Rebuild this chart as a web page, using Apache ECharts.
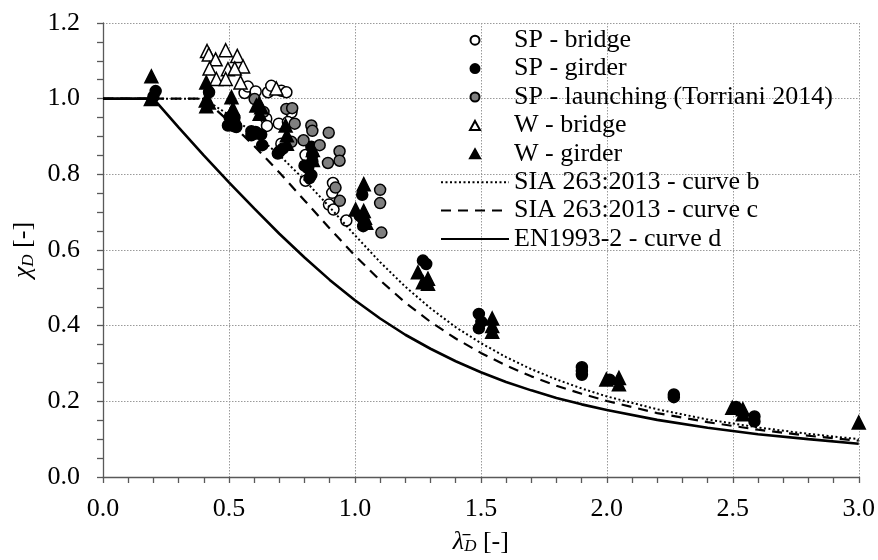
<!DOCTYPE html>
<html>
<head>
<meta charset="utf-8">
<script src="https://cdn.jsdelivr.net/npm/echarts@6/dist/echarts.min.js"></script>
<style>
  html, body { margin: 0; padding: 0; background: #fff; }
  #chart { width: 878px; height: 560px; }
</style>
</head>
<body>
<div id="chart"></div>
<script>
// Test results: [slenderness, reduction factor]
const spBridge = [[0.562,1.015],[0.575,1.032],[0.606,1.019],[0.655,1.017],[0.668,1.034],[0.708,1.021],[0.728,1.017],[0.748,0.964],[0.648,0.947],[0.651,0.928],[0.698,0.934],[0.734,0.938],[0.708,0.881],[0.804,0.851],[0.804,0.783],[0.913,0.777],[0.91,0.751],[0.897,0.72],[0.915,0.707],[0.966,0.678]];
const spGirder = [[0.209,1.02],[0.2,1.005],[0.421,1.017],[0.503,0.951],[0.522,0.95],[0.496,0.929],[0.516,0.928],[0.529,0.925],[0.589,0.914],[0.606,0.912],[0.628,0.905],[0.589,0.903],[0.632,0.877],[0.609,0.908],[0.701,0.861],[0.714,0.868],[0.694,0.855],[0.8,0.823],[0.814,0.816],[0.827,0.798],[0.82,0.79],[0.831,0.834],[0.831,0.851],[0.827,0.873],[1.029,0.746],[1.019,0.69],[1.033,0.681],[1.033,0.663],[1.27,0.572],[1.283,0.563],[1.492,0.431],[1.492,0.393],[1.502,0.41],[1.901,0.29],[1.901,0.28],[1.901,0.27],[2.011,0.257],[2.266,0.218],[2.266,0.211],[2.513,0.185],[2.586,0.16],[2.586,0.147]];
const spLaunching = [[0.602,0.999],[0.637,0.965],[0.728,0.973],[0.751,0.975],[0.761,0.934],[0.748,0.886],[0.796,0.89],[0.827,0.929],[0.831,0.915],[0.86,0.877],[0.896,0.91],[0.939,0.861],[0.939,0.836],[0.893,0.83],[0.923,0.765],[0.94,0.73],[1.1,0.759],[1.1,0.724],[1.105,0.646]];
const wBridge = [[0.413,1.126],[0.42,1.117],[0.487,1.128],[0.447,1.104],[0.533,1.113],[0.423,1.08],[0.496,1.078],[0.556,1.085],[0.523,1.08],[0.45,1.052],[0.487,1.052],[0.546,1.043],[0.688,1.027]];
const wGirder = [[0.192,1.059],[0.19,0.999],[0.41,1.043],[0.408,0.995],[0.41,0.98],[0.42,0.99],[0.51,1.004],[0.516,0.973],[0.51,0.964],[0.522,0.951],[0.609,0.982],[0.619,0.986],[0.628,0.977],[0.622,0.96],[0.725,0.929],[0.73,0.903],[0.73,0.881],[0.833,0.864],[0.833,0.838],[1.035,0.774],[1.003,0.707],[1.035,0.703],[1.04,0.685],[1.045,0.672],[1.25,0.541],[1.29,0.524],[1.29,0.511],[1.27,0.515],[1.545,0.419],[1.545,0.399],[1.545,0.384],[1.998,0.258],[2.048,0.262],[2.048,0.245],[2.498,0.183],[2.54,0.179],[2.54,0.166],[3.0,0.144]];

// Design buckling curves, tabulated
const curveB = [[0,1],[0.4,1],[0.5,0.957],[0.6,0.908],[0.7,0.851],[0.8,0.785],[0.9,0.713],[1.0,0.639],[1.1,0.568],[1.2,0.503],[1.3,0.446],[1.4,0.396],[1.5,0.354],[1.6,0.317],[1.7,0.285],[1.8,0.258],[1.9,0.234],[2.0,0.213],[2.2,0.179],[2.4,0.152],[2.6,0.131],[2.8,0.114],[3.0,0.100]];
const curveC = [[0,1],[0.4,1],[0.5,0.940],[0.6,0.875],[0.7,0.805],[0.8,0.731],[0.9,0.657],[1.0,0.585],[1.1,0.520],[1.2,0.461],[1.3,0.410],[1.4,0.366],[1.5,0.328],[1.6,0.295],[1.7,0.266],[1.8,0.241],[1.9,0.220],[2.0,0.201],[2.2,0.169],[2.4,0.145],[2.6,0.125],[2.8,0.109],[3.0,0.096]];
const curveD = [[0,1],[0.2,1],[0.3,0.924],[0.4,0.850],[0.5,0.779],[0.6,0.710],[0.7,0.643],[0.8,0.580],[0.9,0.521],[1.0,0.467],[1.1,0.419],[1.2,0.376],[1.3,0.339],[1.4,0.306],[1.5,0.277],[1.6,0.251],[1.7,0.229],[1.8,0.209],[1.9,0.192],[2.0,0.177],[2.2,0.151],[2.4,0.130],[2.6,0.113],[2.8,0.100],[3.0,0.088]];

const seriesNames = ['SP - bridge', 'SP - girder', 'SP - launching (Torriani 2014)', 'W - bridge', 'W - girder', 'SIA 263:2013 - curve b', 'SIA 263:2013 - curve c', 'EN1993-2 - curve d'];

const FONT = "'Liberation Serif', 'Times New Roman', serif";
const AXIS_COLOR = '#595959';
// triangle outline as a path, so the legend keeps its proportions
const TRIANGLE_ICON = 'path://M5,0 L10,9 L0,9 Z';
const HIDDEN_MARK = { color: 'rgba(0,0,0,0)', borderColor: 'rgba(0,0,0,0)', borderWidth: 0 };

const chart = echarts.init(document.getElementById('chart'), null, { renderer: 'canvas' });

function scatter(name, data, symbol, size, fill) {
  return {
    name, type: 'scatter', data, symbol, symbolSize: size,
    itemStyle: { color: fill, borderColor: '#000', borderWidth: 1.5, opacity: 1 },
    emphasis: { disabled: true }
  };
}
function curve(name, data, width, type) {
  return {
    name, type: 'line', data, symbol: 'none', showSymbol: false, smooth: false,
    lineStyle: { color: '#000', width, type },
    itemStyle: { color: '#000' },
    emphasis: { disabled: true }
  };
}

const axisCommon = {
  type: 'value',
  axisLine: { show: true, onZero: false, lineStyle: { color: AXIS_COLOR, width: 1.3 } },
  axisTick: { show: true, inside: false, length: 6, lineStyle: { color: AXIS_COLOR, width: 1.3 } },
  splitLine: { show: true, lineStyle: { color: '#9a9a9a', width: 1, type: [1.5, 1.5] } },
  nameLocation: 'middle',
  nameTextStyle: { fontFamily: FONT, fontSize: 26, color: '#000' }
};
const nameRich = {
  i: { fontFamily: FONT, fontSize: 26, fontStyle: 'italic', color: '#000' },
  s: { fontFamily: FONT, fontSize: 17, fontStyle: 'italic', color: '#000', verticalAlign: 'bottom', lineHeight: 14 }
};

chart.setOption({
  animation: false,
  backgroundColor: '#fff',
  grid: { left: 103, right: 19, top: 23, bottom: 78 },
  legend: {
    orient: 'vertical', left: 435, top: 21, itemGap: 0,
    itemWidth: 68, itemHeight: 9, selectedMode: false, symbolKeepAspect: true,
    textStyle: { fontFamily: FONT, fontSize: 26, color: '#000', lineHeight: 28.4 },
    data: [
      seriesNames[0], seriesNames[1], seriesNames[2],
      { name: seriesNames[3], icon: TRIANGLE_ICON },
      { name: seriesNames[4], icon: TRIANGLE_ICON },
      { name: seriesNames[5], itemStyle: HIDDEN_MARK },
      { name: seriesNames[6], itemStyle: HIDDEN_MARK },
      { name: seriesNames[7], itemStyle: HIDDEN_MARK }
    ]
  },
  xAxis: Object.assign({}, axisCommon, {
    min: 0, max: 3, interval: 0.5,
    minorTick: { show: true, splitNumber: 5, length: 6, lineStyle: { color: AXIS_COLOR, width: 1.3 } },
    axisLabel: { margin: 19, fontFamily: FONT, fontSize: 26, color: '#000', formatter: v => v.toFixed(1) },
    name: '{i|λ̄}{s|D} [-]',
    nameGap: 52,
    nameTextStyle: Object.assign({}, axisCommon.nameTextStyle, { rich: nameRich })
  }),
  yAxis: Object.assign({}, axisCommon, {
    min: 0, max: 1.2, interval: 0.2,
    minorTick: { show: true, splitNumber: 4, length: 6, lineStyle: { color: AXIS_COLOR, width: 1.3 } },
    axisLabel: { margin: 23, fontFamily: FONT, fontSize: 26, color: '#000', formatter: v => v.toFixed(1) },
    name: '{i|χ}{s|D} [-]',
    nameGap: 66,
    nameTextStyle: Object.assign({}, axisCommon.nameTextStyle, { rich: nameRich })
  }),
  series: [
    scatter(seriesNames[0], spBridge, 'circle', 11, '#fff'),
    scatter(seriesNames[1], spGirder, 'circle', 11, '#000'),
    scatter(seriesNames[2], spLaunching, 'circle', 11, '#7f7f7f'),
    scatter(seriesNames[3], wBridge, 'triangle', 13, '#fff'),
    scatter(seriesNames[4], wGirder, 'triangle', 13, '#000'),
    curve(seriesNames[5], curveB, 2, [2, 2.5]),
    curve(seriesNames[6], curveC, 2.2, [10, 7]),
    curve(seriesNames[7], curveD, 2.6, 'solid')
  ]
});
</script>
</body>
</html>
